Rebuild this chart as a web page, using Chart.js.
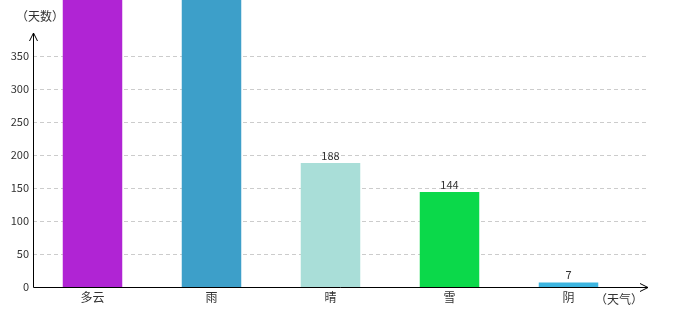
<!DOCTYPE html>
<html>
<head>
<meta charset="utf-8">
<script src="https://cdn.jsdelivr.net/npm/chart.js@4/dist/chart.umd.min.js"></script>
<style>
html,body{margin:0;padding:0;background:#fff;}
#wrap{width:680px;height:320px;}
</style>
</head>
<body>
<div id="wrap"><canvas id="c" width="680" height="320"></canvas></div>
<script>
const categories = ['多云', '雨', '晴', '雪', '阴'];
const days = [520, 500, 188, 144, 7];
const barColors = ['#b024d4', '#3d9fc9', '#a9ded8', '#0bd94a', '#3db5e0'];
const yTickStep = 50;
const yTickMax = 350;
const yAxisTitle = '（天数）';
const xAxisTitle = '（天气）';

const FONT = '"Noto Sans CJK SC", "DejaVu Sans", sans-serif';

const decor = {
  id: 'decor',
  beforeDatasetsDraw(chart) {
    const ctx = chart.ctx, a = chart.chartArea, y = chart.scales.y;
    ctx.save();
    ctx.strokeStyle = '#cccccc';
    ctx.lineWidth = 1;
    ctx.setLineDash([4, 3]);
    y.ticks.forEach(t => {
      if (t.value === 0) return;
      const py = Math.round(y.getPixelForValue(t.value)) + 0.5;
      ctx.beginPath();
      ctx.moveTo(a.left, py);
      ctx.lineTo(a.right + 20, py);
      ctx.stroke();
    });
    ctx.restore();
  },
  afterDatasetsDraw(chart) {
    const ctx = chart.ctx, a = chart.chartArea, y = chart.scales.y;
    const meta = chart.getDatasetMeta(0);
    ctx.save();
    // data labels
    ctx.fillStyle = '#333';
    ctx.font = '11px ' + FONT;
    ctx.textAlign = 'center';
    ctx.textBaseline = 'bottom';
    meta.data.forEach((bar, i) => {
      ctx.fillText(String(days[i]), bar.x, bar.y - 2);
    });
    // axes
    const x0 = Math.round(a.left) + 0.5;
    const y0 = Math.round(y.getPixelForValue(0)) + 0.5;
    const xEnd = a.right + 20;
    ctx.strokeStyle = '#000';
    ctx.lineWidth = 1;
    ctx.setLineDash([]);
    ctx.beginPath();
    ctx.moveTo(x0, y0); ctx.lineTo(x0, a.top);
    ctx.moveTo(x0, y0); ctx.lineTo(xEnd, y0);
    // y arrow
    ctx.moveTo(x0 - 4, a.top + 8); ctx.lineTo(x0, a.top); ctx.lineTo(x0 + 4, a.top + 8);
    // x arrow
    ctx.moveTo(xEnd - 8, y0 - 4); ctx.lineTo(xEnd, y0); ctx.lineTo(xEnd - 8, y0 + 4);
    ctx.stroke();
    // axis titles
    ctx.fillStyle = '#333';
    ctx.font = '12px ' + FONT;
    ctx.textBaseline = 'middle';
    ctx.textAlign = 'center';
    ctx.fillText(yAxisTitle, 40, 16);
    ctx.fillText(xAxisTitle, 619, 299);
    ctx.restore();
  }
};

new Chart(document.getElementById('c'), {
  type: 'bar',
  data: {
    labels: categories,
    datasets: [{
      data: days,
      backgroundColor: barColors,
      borderWidth: 0,
      barPercentage: 0.5,
      categoryPercentage: 1.0,
      clip: false
    }]
  },
  options: {
    responsive: false,
    animation: false,
    devicePixelRatio: 1,
    layout: { padding: { left: 0, right: 52, top: 33, bottom: 0 } },
    plugins: { legend: { display: false }, tooltip: { enabled: false } },
    scales: {
      x: {
        grid: { display: false, drawTicks: false },
        border: { display: false },
        ticks: { color: '#333', font: { size: 12, family: FONT }, padding: 3 },
        afterFit(s) { s.height = 33; }
      },
      y: {
        min: 0,
        max: 385,
        grid: { display: false, drawTicks: false },
        border: { display: false },
        ticks: { stepSize: yTickStep, color: '#333', font: { size: 11, family: FONT }, padding: 4 },
        afterBuildTicks(s) { s.ticks = s.ticks.filter(t => t.value % yTickStep === 0 && t.value <= yTickMax); },
        afterFit(s) { s.width = 33; }
      }
    }
  },
  plugins: [decor]
});
</script>
</body>
</html>
